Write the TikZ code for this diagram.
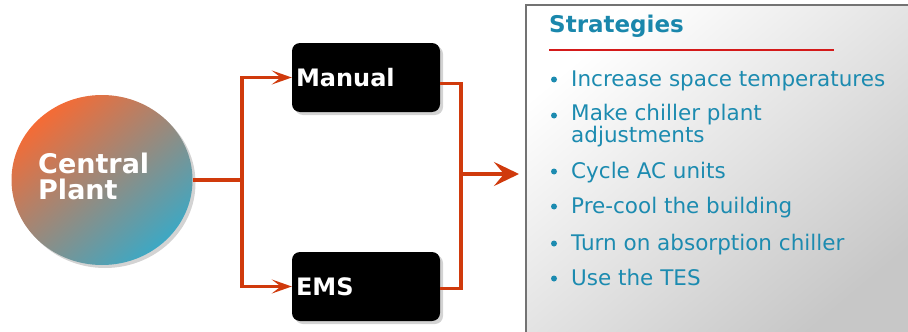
\documentclass[tikz,border=0pt]{standalone}
\usepackage{fontspec}
\setmainfont{DejaVu Sans}
\usetikzlibrary{arrows.meta,shadows,positioning,shapes.geometric}
\definecolor{arr}{HTML}{D03A0C}
\definecolor{teal1}{HTML}{1A87AC}
\definecolor{teal2}{HTML}{1C8BB0}
\definecolor{orng}{HTML}{F56B35}
\definecolor{cyn}{HTML}{3DA8C4}
\definecolor{redl}{HTML}{D41A1A}
\tikzset{
  conn/.style={draw=arr, line width=3.5pt},
  smallhead/.style={-{Stealth[length=20pt,width=14pt,inset=9pt]}},
  bighead/.style={-{Stealth[length=25pt,width=24pt,inset=10pt]}},
  blackbox/.style={fill=black, rounded corners=8pt, minimum width=148pt, minimum height=69pt,
    text=white, font=\bfseries\fontsize{24}{26}\selectfont, text width=140pt, align=left,
    inner xsep=4pt, drop shadow={shadow xshift=3pt, shadow yshift=-3pt, opacity=0.35}},
  bullettext/.style={anchor=base west, text=teal2, font=\fontsize{21.5}{20}\selectfont, inner sep=0pt, align=left},
  bulletdot/.style={fill=teal2},
}
\begin{document}
\begin{tikzpicture}[x=1pt,y=-1pt]
\useasboundingbox (0,0) rectangle (908,332);
% panel
\shade[top color=white, bottom color=black!22, shading angle=40] (526,5) rectangle (915,340);
\draw[draw=black!55, line width=2pt] (526,340) -- (526,5) -- (915,5);
\node[anchor=base west, text=teal1, font=\bfseries\fontsize{23}{26}\selectfont, inner sep=0pt] (title) at (549,32) {Strategies};
\coordinate (rl1) at (549,50);
\coordinate (rl2) at (834,50);
\draw[redl, line width=1.5pt] (rl1) -- (rl2);
\foreach \y/\t in {86/{Increase space temperatures}, 178/{Cycle AC units}, 213/{Pre-cool the building}, 250/{Turn on absorption chiller}, 285/{Use the TES}}{
  \fill[bulletdot] (554,\y-6.5) circle (3pt);
  \node[bullettext] at (571,\y) {\t};
}
\fill[bulletdot] (554,122-6.5) circle (3pt);
\node[bullettext] at (571,142) {Make chiller plant\\adjustments};
% circle
\node[ellipse, minimum width=181pt, minimum height=170pt, inner sep=0pt,
  drop shadow={shadow xshift=3pt, shadow yshift=-3pt, opacity=0.35}] (cp) at (102,180) {};
\shade[top color=orng, bottom color=cyn, shading angle=40] (cp.center) ellipse [x radius=90.5pt, y radius=85pt];
\node[anchor=base west, text=white, font=\bfseries\fontsize{27}{26}\selectfont, inner sep=0pt] at (38,173) {Central};
\node[anchor=base west, text=white, font=\bfseries\fontsize{27}{26}\selectfont, inner sep=0pt] at (38,199) {Plant};
% boxes
\node[blackbox] (man) at (366,77.5) {Manual};
\node[blackbox] (ems) at (366,286.5) {EMS};
% connectors
\coordinate (j1) at (242,180);
\draw[conn] (cp.east) -- (j1);
\draw[conn, smallhead] (j1) |- (man.west);
\draw[conn, smallhead] (j1) |- (ems.west);
\coordinate (j2) at (461,174);
\coordinate (tgt) at (519,174);
\draw[conn, line width=3.5pt] ([yshift=-6pt]man.east) -| (j2) |- ([yshift=-2pt]ems.east);
\draw[conn, line width=4.5pt, bighead] (j2) -- (tgt);
\end{tikzpicture}
\end{document}
